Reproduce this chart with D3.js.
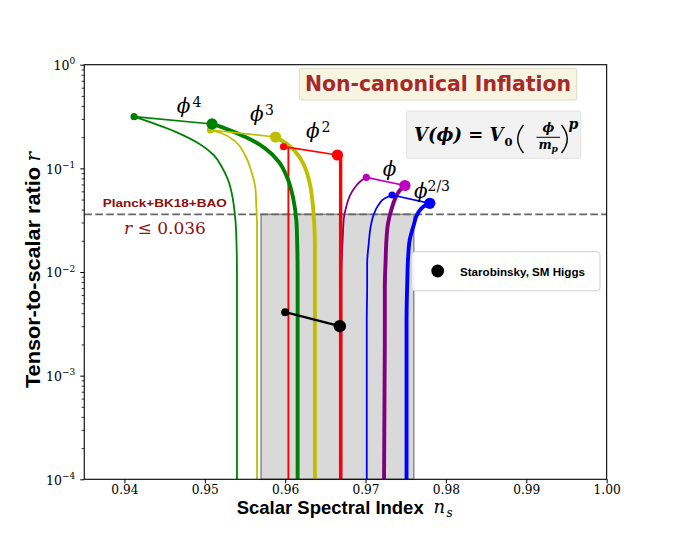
<!DOCTYPE html>
<html>
<head>
<meta charset="utf-8">
<script src="https://cdn.jsdelivr.net/npm/d3@7"></script>
<style>
  body { margin: 0; background: #fff; }
  svg { display: block; }
</style>
</head>
<body>
<div id="chart"></div>
<script>
const width = 674;
const height = 539;

// tick values
const xTicks = [0.94, 0.95, 0.96, 0.97, 0.98, 0.99, 1.00];
const yTickExps = [0, -1, -2, -3, -4];

// Planck+BK18+BAO bound
const rLimit = 0.036;
const bandNs = [0.957, 0.976];

// end points of each model: N = 50 (small dot) and N = 60 (big dot)
const models = ['phi4', 'phi3', 'phi2', 'phi1', 'phi23'];
const dotsN50 = [[0.9412, 0.315], [0.9507, 0.2345], [0.9598, 0.162], [0.9701, 0.0819], [0.9733, 0.0553]];
const dotsN60 = [[0.9509, 0.268], [0.9588, 0.2006], [0.9665, 0.1345], [0.9749, 0.0683], [0.9780, 0.0460]];

// non-canonical tracks (ns, r)
const phi4Thin = [[0.9412, 0.315], [0.9463, 0.226], [0.9492, 0.1745], [0.9511, 0.1345], [0.9521, 0.1037], [0.9529, 0.0772], [0.9534, 0.0553], [0.9537, 0.0382], [0.9539, 0.0245], [0.9540, 0.0094], [0.9540, 0.0001]];
const phi4Thick = [[0.9509, 0.268], [0.9525, 0.243], [0.9550, 0.202], [0.9575, 0.156], [0.9592, 0.116], [0.9603, 0.080], [0.9610, 0.0514], [0.9614, 0.0306], [0.9615, 0.0182], [0.96155, 0.0094], [0.96155, 0.0001]];
const phi3Thin = [[0.9507, 0.2345], [0.9521, 0.218], [0.9538, 0.181], [0.9550, 0.1345], [0.9558, 0.0928], [0.9563, 0.0642], [0.9564, 0.0443], [0.9565, 0.0284], [0.9565, 0.0146], [0.9565, 0.0001]];
const phi3Thick = [[0.9588, 0.2006], [0.9604, 0.168], [0.9616, 0.1345], [0.9625, 0.1001], [0.9631, 0.0692], [0.9634, 0.0477], [0.9636, 0.0306], [0.9637, 0.0182], [0.9637, 0.0094], [0.9637, 0.0001]];
const phi2Thin = [[0.9598, 0.162], [0.9604, 0.157], [0.9604, 0.0001]];
const phi2Thick = [[0.9665, 0.1345], [0.9669, 0.131], [0.9669, 0.0001]];
const phi1Thin = [[0.9701, 0.0819], [0.9693, 0.0743], [0.9686, 0.0642], [0.9680, 0.0533], [0.9676, 0.0427], [0.9673, 0.0330], [0.9672, 0.0245], [0.9671, 0.0169], [0.9670, 0.0094], [0.9670, 0.0001]];
const phi1Thick = [[0.9749, 0.0683], [0.9743, 0.0618], [0.9737, 0.0514], [0.9732, 0.0396], [0.9728, 0.0295], [0.9726, 0.0204], [0.9725, 0.01305], [0.9724, 0.0072], [0.9724, 0.0034], [0.9723, 0.0001]];
const phi23Thin = [[0.9733, 0.0553], [0.9724, 0.0514], [0.9716, 0.0443], [0.9710, 0.0355], [0.9706, 0.0264], [0.9704, 0.0189], [0.9702, 0.0121], [0.9702, 0.0072], [0.97015, 0.0034], [0.97015, 0.0001]];
const phi23Thick = [[0.9780, 0.0460], [0.9772, 0.0427], [0.9765, 0.0368], [0.9760, 0.0284], [0.9755, 0.0204], [0.9753, 0.01405], [0.9752, 0.0084], [0.9751, 0.0034], [0.9751, 0.0001]];

// Starobinsky / SM Higgs (N = 50, 60)
const starobinsky = [[0.9600, 0.0041], [0.9668, 0.0030]];

const colors = { phi4: 'green', phi3: '#bfbf00', phi2: 'red', phi1: 'purple', phi23: 'blue' };
const dotColors = { phi4: 'green', phi3: '#bfbf00', phi2: 'red', phi1: '#bf00bf', phi23: 'blue' };
const tracks = {
    phi4: [phi4Thin, phi4Thick], phi3: [phi3Thin, phi3Thick], phi2: [phi2Thin, phi2Thick],
    phi1: [phi1Thin, phi1Thick], phi23: [phi23Thin, phi23Thick]
};

const margin = { top: 64.7, right: 67.35, bottom: 59.7, left: 84.25 };
const usable = {
    left: margin.left, right: width - margin.right,
    top: margin.top, bottom: height - margin.bottom
};

const xScale = d3.scaleLinear().domain([0.935, 1.0]).range([usable.left, usable.right]);
const yScale = d3.scaleLog().domain([1e-4, 1]).range([usable.bottom, usable.top]);

const svg = d3.select('#chart').append('svg')
    .attr('width', width).attr('height', height)
    .attr('viewBox', `0 0 ${width} ${height}`);

svg.append('clipPath').attr('id', 'plot-clip').append('rect')
    .attr('x', usable.left).attr('y', usable.top)
    .attr('width', usable.right - usable.left).attr('height', usable.bottom - usable.top);

const serif = "'DejaVu Serif', serif";
const sans = "'Liberation Sans', Arial, sans-serif";

// shaded allowed region
svg.append('rect')
    .attr('x', xScale(bandNs[0])).attr('y', yScale(rLimit))
    .attr('width', xScale(bandNs[1]) - xScale(bandNs[0]))
    .attr('height', yScale(1e-4) - yScale(rLimit))
    .attr('fill', '#d9d9d9').attr('stroke', '#8c8c8c').attr('stroke-width', 1.5);

// r bound
svg.append('line')
    .attr('x1', xScale(0.935)).attr('x2', xScale(1.0))
    .attr('y1', yScale(rLimit)).attr('y2', yScale(rLimit))
    .attr('stroke', '#666').attr('stroke-width', 1.6).attr('stroke-dasharray', '7.7,3.3');

const plot = svg.append('g').attr('clip-path', 'url(#plot-clip)');

const smooth = d3.line().x(d => xScale(d[0])).y(d => yScale(d[1])).curve(d3.curveMonotoneY);
const straight = d3.line().x(d => xScale(d[0])).y(d => yScale(d[1]));

// tracks, drawn from p=2/3 up to p=4
const order = ['phi23', 'phi1', 'phi2', 'phi3', 'phi4'];
order.forEach(m => {
    const [thin, thick] = tracks[m];
    const gen = m === 'phi2' ? straight : smooth;
    plot.append('path').attr('d', gen(thin))
        .attr('fill', 'none').attr('stroke', colors[m]).attr('stroke-width', m === 'phi2' ? 1.9 : 1.8);
    plot.append('path').attr('d', gen(thick))
        .attr('fill', 'none').attr('stroke', colors[m]).attr('stroke-width', m === 'phi2' ? 3.4 : 3.9);
});

// N=50 to N=60 connectors and dots
order.forEach(m => {
    const i = models.indexOf(m);
    const pair = [dotsN50[i], dotsN60[i]];
    plot.append('path').attr('d', straight(pair))
        .attr('fill', 'none').attr('stroke', dotColors[m]).attr('stroke-width', 1.7);
    plot.append('circle').attr('cx', xScale(pair[0][0])).attr('cy', yScale(pair[0][1]))
        .attr('r', 3.6).attr('fill', dotColors[m]);
    plot.append('circle').attr('cx', xScale(pair[1][0])).attr('cy', yScale(pair[1][1]))
        .attr('r', 5.6).attr('fill', dotColors[m]);
});

// Starobinsky
plot.append('path').attr('d', straight(starobinsky))
    .attr('fill', 'none').attr('stroke', 'black').attr('stroke-width', 2.3);
plot.append('circle').attr('cx', xScale(starobinsky[0][0])).attr('cy', yScale(starobinsky[0][1]))
    .attr('r', 4).attr('fill', 'black');
plot.append('circle').attr('cx', xScale(starobinsky[1][0])).attr('cy', yScale(starobinsky[1][1]))
    .attr('r', 6.2).attr('fill', 'black');

// axes
const xAxis = svg.append('g')
    .attr('transform', `translate(0, ${usable.bottom})`)
    .call(d3.axisBottom(xScale).tickValues(xTicks).tickFormat(d3.format('.2f')).tickSize(4).tickSizeOuter(0).tickPadding(1.8));
xAxis.selectAll('text').attr('font-family', serif).attr('font-size', 12.2).attr('fill', '#000');
xAxis.select('.domain').remove();

const minorTicks = [];
for (let e = -4; e < 0; e++) for (let k = 2; k <= 9; k++) minorTicks.push(k * Math.pow(10, e));

const yAxis = svg.append('g')
    .attr('transform', `translate(${usable.left}, 0)`)
    .call(d3.axisLeft(yScale).tickValues(yTickExps.map(e => Math.pow(10, e))).tickFormat('').tickSize(4).tickSizeOuter(0));
yAxis.select('.domain').remove();
const yMinor = svg.append('g')
    .attr('transform', `translate(${usable.left}, 0)`)
    .call(d3.axisLeft(yScale).tickValues(minorTicks).tickFormat('').tickSize(2.6).tickSizeOuter(0));
yMinor.select('.domain').remove();
yMinor.selectAll('line').attr('stroke-width', 0.8);

yTickExps.forEach(e => {
    const t = svg.append('text')
        .attr('x', usable.left - 9).attr('y', yScale(Math.pow(10, e)) + 5.2)
        .attr('text-anchor', 'end').attr('font-family', serif).attr('font-size', 12.5);
    t.append('tspan').text('10');
    t.append('tspan').attr('font-size', 9).attr('dy', -5.5).text(e === 0 ? '0' : '\u2212' + (-e));
});

// frame
svg.append('rect')
    .attr('x', usable.left).attr('y', usable.top)
    .attr('width', usable.right - usable.left).attr('height', usable.bottom - usable.top)
    .attr('fill', 'none').attr('stroke', '#000').attr('stroke-width', 1.1);

// axis labels
svg.append('text')
    .attr('x', 236.7).attr('y', 514)
    .attr('font-family', sans).attr('font-weight', 'bold').attr('font-size', 18.5)
    .attr('textLength', 187).attr('lengthAdjust', 'spacingAndGlyphs')
    .text('Scalar Spectral Index');
svg.append('text').attr('x', 433.5).attr('y', 513)
    .attr('font-family', serif).attr('font-style', 'italic').attr('font-size', 18).text('n');
svg.append('text').attr('x', 446.5).attr('y', 516.5)
    .attr('font-family', serif).attr('font-style', 'italic').attr('font-size', 12).text('s');

svg.append('text')
    .attr('transform', 'translate(40, 388) rotate(-90)')
    .attr('font-family', sans).attr('font-weight', 'bold').attr('font-size', 20.5)
    .attr('textLength', 221).attr('lengthAdjust', 'spacingAndGlyphs')
    .text('Tensor-to-scalar ratio');
svg.append('text')
    .attr('transform', 'translate(40, 161.5) rotate(-90)')
    .attr('font-family', serif).attr('font-style', 'italic').attr('font-size', 20).text('r');

// Planck label
svg.append('text').attr('x', 102.7).attr('y', 207.3)
    .attr('font-family', sans).attr('font-weight', 'bold').attr('font-size', 11.5)
    .attr('textLength', 124).attr('lengthAdjust', 'spacingAndGlyphs')
    .attr('fill', '#8b1010').text('Planck+BK18+BAO');
const rl = svg.append('text').attr('x', 124).attr('y', 234.3)
    .attr('font-family', serif).attr('font-size', 17).attr('fill', '#8b1010');
rl.append('tspan').attr('font-style', 'italic').text('r');
rl.append('tspan').text(' \u2264 0.036');

// model labels
const modelLabels = [
    { x: 176.7, y: 112.5, sup: '4', sx: 192.5, sy: 106.5 },
    { x: 250, y: 121, sup: '3', sx: 265, sy: 115 },
    { x: 306, y: 137.5, sup: '2', sx: 321.5, sy: 131.5 },
    { x: 382.7, y: 176, sup: '', sx: 0, sy: 0 },
    { x: 414, y: 197.5, sup: '2/3', sx: 427.5, sy: 190.5 }
];
modelLabels.forEach(l => {
    svg.append('text').attr('x', l.x).attr('y', l.y)
        .attr('font-family', serif).attr('font-style', 'italic').attr('font-size', 20).text('\u03d5');
    if (l.sup) svg.append('text').attr('x', l.sx).attr('y', l.sy)
        .attr('font-family', serif).attr('font-size', 14).text(l.sup);
});

// title box
svg.append('rect').attr('x', 299.3).attr('y', 68.3).attr('width', 277.4).attr('height', 31.7)
    .attr('rx', 2).attr('fill', '#f7f5e1').attr('stroke', '#dcdacb');
svg.append('text').attr('x', 305).attr('y', 90.5)
    .attr('font-family', "'DejaVu Sans', sans-serif").attr('font-weight', 'bold').attr('font-size', 21)
    .attr('textLength', 266).attr('lengthAdjust', 'spacingAndGlyphs')
    .attr('fill', '#a52a2a').text('Non-canonical Inflation');

// potential box
svg.append('rect').attr('x', 406.7).attr('y', 111).attr('width', 174).attr('height', 47.3)
    .attr('rx', 2).attr('fill', '#f2f2f2').attr('stroke', '#e2e2e2');
const bi = g => g.attr('font-family', serif).attr('font-weight', 'bold').attr('font-style', 'italic');
const vt = svg.append('text').attr('x', 414).attr('y', 141).attr('font-size', 18).call(bi);
vt.append('tspan').text('V(\u03d5) = V');
vt.append('tspan').attr('font-size', 11.5).attr('font-style', 'normal').attr('dx', 1).attr('dy', 5).text('0');
// large parentheses around the fraction
svg.append('path').attr('d', 'M 523.5 125 Q 512 139 523.5 153')
    .attr('fill', 'none').attr('stroke', '#000').attr('stroke-width', 1.4);
svg.append('path').attr('d', 'M 561.5 125 Q 573 139 561.5 153')
    .attr('fill', 'none').attr('stroke', '#000').attr('stroke-width', 1.4);
svg.append('text').attr('x', 548.3).attr('y', 132).attr('font-size', 12.5).attr('text-anchor', 'middle')
    .call(bi).text('\u03d5');
svg.append('line').attr('x1', 536.5).attr('x2', 560).attr('y1', 137.3).attr('y2', 137.3)
    .attr('stroke', '#000').attr('stroke-width', 1);
svg.append('text').attr('x', 538.5).attr('y', 149).attr('font-size', 12.5).call(bi).text('m');
svg.append('text').attr('x', 551.5).attr('y', 152).attr('font-size', 9).call(bi).text('p');
svg.append('text').attr('x', 568.5).attr('y', 129).attr('font-size', 14).call(bi).text('p');

// legend
svg.append('rect').attr('x', 411.7).attr('y', 251.7).attr('width', 188.3).attr('height', 39)
    .attr('rx', 3).attr('fill', '#fff').attr('fill-opacity', 0.9).attr('stroke', '#d0d0d0');
svg.append('circle').attr('cx', 437.7).attr('cy', 271).attr('r', 6.4).attr('fill', '#000');
svg.append('text').attr('x', 460).attr('y', 275.5)
    .attr('font-family', sans).attr('font-weight', 'bold').attr('font-size', 11)
    .attr('textLength', 125).attr('lengthAdjust', 'spacingAndGlyphs').text('Starobinsky, SM Higgs');
</script>
</body>
</html>
